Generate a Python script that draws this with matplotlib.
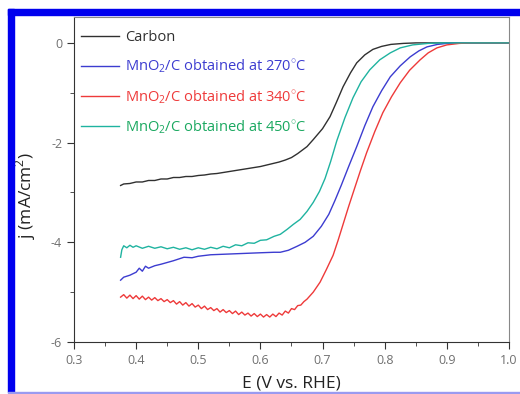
import matplotlib
matplotlib.use('Agg')
import matplotlib.pyplot as plt
from matplotlib.patches import Rectangle
from matplotlib.ticker import MultipleLocator

plt.rcParams['font.family'] = ['Open Sans', 'DejaVu Sans']
plt.rcParams['mathtext.fontset'] = 'custom'
plt.rcParams['mathtext.rm'] = 'Open Sans'

# carbon
e_carbon = [0.375, 0.38, 0.39, 0.40, 0.41, 0.42, 0.43, 0.44, 0.45, 0.46, 0.47, 0.48, 0.49,
            0.50, 0.51, 0.52, 0.53, 0.54, 0.55, 0.56, 0.57, 0.58, 0.59, 0.60, 0.61, 0.62,
            0.63, 0.64, 0.65, 0.66, 0.675, 0.685, 0.70, 0.712, 0.722, 0.733, 0.745, 0.755,
            0.768, 0.781, 0.795, 0.81, 0.83, 0.85, 1.0]
j_carbon = [-2.86, -2.83, -2.82, -2.79, -2.79, -2.76, -2.76, -2.73, -2.73, -2.70, -2.70, -2.68, -2.68,
            -2.66, -2.65, -2.63, -2.62, -2.60, -2.58, -2.56, -2.54, -2.52, -2.50, -2.48, -2.45, -2.42,
            -2.39, -2.35, -2.30, -2.22, -2.08, -1.94, -1.72, -1.48, -1.20, -0.88, -0.60, -0.40,
            -0.24, -0.13, -0.07, -0.03, -0.01, 0.0, 0.0]

# MnO2/C 270 C
e_270 = [0.375, 0.38, 0.39, 0.40, 0.405, 0.41, 0.415, 0.42, 0.43, 0.44, 0.46, 0.477, 0.49,
         0.50, 0.52, 0.54, 0.56, 0.58, 0.60, 0.622, 0.632, 0.645, 0.659, 0.672, 0.685, 0.698,
         0.710, 0.720, 0.730, 0.742, 0.755, 0.768, 0.781, 0.795, 0.809, 0.825, 0.841, 0.855,
         0.868, 0.885, 0.90, 0.92, 1.0]
j_270 = [-4.76, -4.70, -4.66, -4.60, -4.52, -4.58, -4.48, -4.52, -4.47, -4.44, -4.37, -4.30, -4.31,
         -4.28, -4.25, -4.24, -4.23, -4.22, -4.21, -4.20, -4.20, -4.16, -4.08, -4.00, -3.88, -3.68,
         -3.44, -3.16, -2.86, -2.48, -2.08, -1.66, -1.28, -0.96, -0.68, -0.46, -0.28, -0.16,
         -0.08, -0.03, -0.01, 0.0, 0.0]

# MnO2/C 340 C
e_340 = [0.375, 0.380, 0.385, 0.390, 0.395, 0.400, 0.405, 0.410, 0.415, 0.420, 0.425, 0.430,
         0.435, 0.440, 0.445, 0.450, 0.455, 0.460, 0.465, 0.470, 0.475, 0.480, 0.485, 0.490,
         0.495, 0.500, 0.505, 0.510, 0.515, 0.520, 0.525, 0.530, 0.535, 0.540, 0.545, 0.550,
         0.555, 0.560, 0.565, 0.570, 0.575, 0.580, 0.585, 0.590, 0.595, 0.600, 0.605, 0.610,
         0.615, 0.620, 0.625, 0.630, 0.635, 0.640, 0.645, 0.650, 0.655, 0.660, 0.665, 0.670,
         0.675, 0.685, 0.696, 0.706, 0.717, 0.725, 0.733, 0.742, 0.752, 0.761, 0.771, 0.784,
         0.797, 0.811, 0.825, 0.84, 0.857, 0.87, 0.884, 0.90, 0.92, 0.94, 1.0]
j_340 = [-5.10, -5.05, -5.12, -5.06, -5.13, -5.07, -5.14, -5.08, -5.15, -5.10, -5.16, -5.11,
         -5.17, -5.13, -5.19, -5.15, -5.21, -5.17, -5.24, -5.19, -5.26, -5.21, -5.28, -5.23,
         -5.30, -5.26, -5.33, -5.28, -5.35, -5.31, -5.37, -5.33, -5.40, -5.35, -5.41, -5.37,
         -5.43, -5.38, -5.45, -5.40, -5.46, -5.42, -5.48, -5.43, -5.49, -5.44, -5.50, -5.45,
         -5.50, -5.44, -5.49, -5.42, -5.46, -5.38, -5.42, -5.33, -5.35, -5.27, -5.26, -5.19,
         -5.14, -5.00, -4.80, -4.55, -4.26, -3.96, -3.64, -3.28, -2.90, -2.56, -2.20, -1.78,
         -1.40, -1.08, -0.80, -0.55, -0.34, -0.20, -0.10, -0.04, -0.01, 0.0, 0.0]

# MnO2/C 450 C
e_450 = [0.375, 0.377, 0.380, 0.385, 0.390, 0.395, 0.400, 0.41, 0.42, 0.43, 0.44, 0.45, 0.46,
         0.47, 0.48, 0.49, 0.50, 0.51, 0.52, 0.53, 0.54, 0.55, 0.56, 0.57, 0.58, 0.59, 0.60,
         0.61, 0.622, 0.632, 0.643, 0.653, 0.664, 0.675, 0.685, 0.695, 0.704, 0.713, 0.723,
         0.736, 0.749, 0.762, 0.776, 0.792, 0.809, 0.825, 0.845, 0.87, 0.89, 1.0]
j_450 = [-4.30, -4.15, -4.07, -4.11, -4.06, -4.10, -4.07, -4.12, -4.08, -4.12, -4.09, -4.13, -4.10,
         -4.14, -4.11, -4.15, -4.11, -4.14, -4.10, -4.13, -4.08, -4.11, -4.05, -4.07, -4.01, -4.02, -3.96,
         -3.95, -3.88, -3.84, -3.74, -3.64, -3.54, -3.38, -3.20, -2.98, -2.72, -2.38, -1.96,
         -1.50, -1.10, -0.78, -0.54, -0.34, -0.20, -0.10, -0.04, -0.01, 0.0, 0.0]

labels = ['Carbon',
          r'MnO$_2$/C obtained at 270$^{\circ}$C',
          r'MnO$_2$/C obtained at 340$^{\circ}$C',
          r'MnO$_2$/C obtained at 450$^{\circ}$C']
line_colors = ['#303030', '#3c3cd0', '#ee3a3a', '#1fb3a0']
text_colors = ['#303030', '#3c3cd0', '#ee3a3a', '#1aa860']

fig = plt.figure(figsize=(5.2, 3.94), dpi=100)
ax = fig.add_axes([0.1423, 0.132, 0.8365, 0.8249])

series = [(e_carbon, j_carbon), (e_270, j_270), (e_340, j_340), (e_450, j_450)]
for (e, j), lab, c in zip(series, labels, line_colors):
    ax.plot(e, j, color=c, lw=1.0, label=lab)

ax.set_xlim(0.3, 1.0)
ax.set_ylim(-6, 0.52)
ax.xaxis.set_major_locator(MultipleLocator(0.1))
ax.xaxis.set_minor_locator(MultipleLocator(0.05))
ax.yaxis.set_major_locator(MultipleLocator(2))
ax.yaxis.set_minor_locator(MultipleLocator(1))
ax.tick_params(which='both', direction='out', top=False, right=False,
               colors='#333333', labelcolor='#707070', labelsize=9)
ax.tick_params(which='major', length=5)
ax.tick_params(which='minor', length=3)
ax.xaxis.set_major_formatter(plt.FuncFormatter(lambda v, p: f'{v:.1f}'))
ax.yaxis.set_major_formatter(plt.FuncFormatter(lambda v, p: f'{v:.0f}'))
for s in ['left', 'bottom']:
    ax.spines[s].set_color('#333333')
for s in ['top', 'right']:
    ax.spines[s].set_color('#888888')

ax.set_xlabel('E (V vs. RHE)', fontsize=12.5, color='#222222', labelpad=6)
ax.set_ylabel(r'j (mA/cm$^2$)', fontsize=12.5, color='#222222')
ax.yaxis.set_label_coords(-0.083, 0.45)

leg = ax.legend(loc='upper left', bbox_to_anchor=(0.0, 0.982), frameon=False,
                fontsize=10.5, handlelength=2.6, handletextpad=0.4,
                labelspacing=0.85, borderaxespad=0.1)
for t, c in zip(leg.get_texts(), text_colors):
    t.set_color(c)

# blue frame around the picture
fig.patches.append(Rectangle((8 / 520, 379 / 394), 512 / 520, 6 / 394,
                             transform=fig.transFigure, color='#0000ee', zorder=0))
fig.patches.append(Rectangle((8 / 520, 2 / 394), 6 / 520, 383 / 394,
                             transform=fig.transFigure, color='#0000ee', zorder=0))
fig.patches.append(Rectangle((8 / 520, 1 / 394), 512 / 520, 1.5 / 394,
                             transform=fig.transFigure, color='#9a9af0', zorder=0))

fig.savefig('out.png', dpi=100)
